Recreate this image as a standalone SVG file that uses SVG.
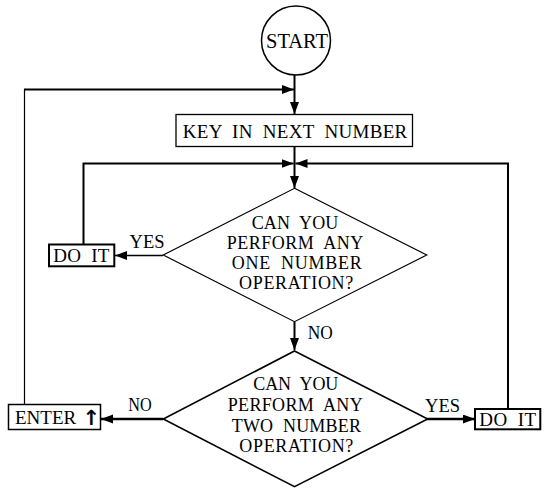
<svg xmlns="http://www.w3.org/2000/svg" width="549" height="491" viewBox="0 0 549 491">
<style>
.t{font-family:"Liberation Serif","Times New Roman",serif;fill:#000;}
.b{font-size:19px;word-spacing:5px;}
.d{font-size:18px;word-spacing:5px;}
.l{font-size:18px;}
.shape{fill:#fff;stroke:#000;}
.c{fill:none;stroke:#000;stroke-width:2;}
</style>
<defs>
<marker id="ah" markerUnits="userSpaceOnUse" markerWidth="13" markerHeight="10" refX="12" refY="4.5" orient="auto">
<path d="M0,0 L12,4.5 L0,9 z" fill="#000"/>
</marker>
</defs>
<rect width="549" height="491" fill="#fff"/>
<g id="connectors">
<line class="c" x1="294.5" y1="75" x2="294.5" y2="114" marker-end="url(#ah)"/>
<path class="c" d="M24.5,404 V89.5" style="stroke-width:1.2"/>
<path class="c" d="M24,89.5 H294" marker-end="url(#ah)"/>
<line class="c" x1="294.5" y1="147" x2="294.5" y2="188" marker-end="url(#ah)"/>
<path class="c" d="M83.5,244 V163.5 H293.5" marker-end="url(#ah)"/>
<path class="c" d="M508,409 V163.5 H295.5" marker-end="url(#ah)"/>
<line class="c" x1="163" y1="255.5" x2="115" y2="255.5" style="stroke-width:1.5" marker-end="url(#ah)"/>
<line class="c" x1="294.5" y1="322" x2="294.5" y2="350" marker-end="url(#ah)"/>
<line class="c" x1="163" y1="419" x2="101" y2="419" style="stroke-width:2.5" marker-end="url(#ah)"/>
<line class="c" x1="427" y1="419" x2="475" y2="419" style="stroke-width:2.5" marker-end="url(#ah)"/>
<text class="t l" x="129.5" y="247.5" textLength="35" lengthAdjust="spacingAndGlyphs">YES</text>
<text class="t l" x="307.7" y="339.3" textLength="25" lengthAdjust="spacingAndGlyphs">NO</text>
<text class="t l" x="128.3" y="411" textLength="23.4" lengthAdjust="spacingAndGlyphs">NO</text>
<text class="t l" x="425" y="411.7" textLength="35" lengthAdjust="spacingAndGlyphs">YES</text>
</g>
<g id="start">
<circle class="shape" cx="296" cy="40.5" r="34.5" stroke-width="1.5"/>
<text class="t" x="266" y="47.7" font-size="20" textLength="62" lengthAdjust="spacingAndGlyphs">START</text>
</g>
<g id="key-in">
<rect class="shape" x="176" y="114.5" width="236.5" height="32" stroke-width="1.3"/>
<text class="t b" x="182.7" y="137.7" textLength="224.6" lengthAdjust="spacing">KEY IN NEXT NUMBER</text>
</g>
<g id="decision-one">
<polygon class="shape" points="294.5,188.3 426.7,255 294.5,321.7 163.3,255" stroke-width="1.2"/>
<text class="t d" x="251.7" y="229.3" textLength="86.6" lengthAdjust="spacing">CAN YOU</text>
<text class="t d" x="226.7" y="249" textLength="136.6" lengthAdjust="spacing">PERFORM ANY</text>
<text class="t d" x="231.7" y="269.3" textLength="130" lengthAdjust="spacing">ONE NUMBER</text>
<text class="t d" x="239" y="289.3" textLength="114.3" lengthAdjust="spacing">OPERATION?</text>
</g>
<g id="do-it-left">
<rect class="shape" x="49" y="244.5" width="65.3" height="21.8" stroke-width="2"/>
<text class="t b" x="53.3" y="261.7" textLength="56" lengthAdjust="spacing">DO IT</text>
</g>
<g id="decision-two">
<polygon class="shape" points="294.5,351 427.7,419 294.5,486.7 163.3,419" stroke-width="1.6"/>
<text class="t d" x="253.3" y="390" textLength="85" lengthAdjust="spacing">CAN YOU</text>
<text class="t d" x="227.7" y="411" textLength="135" lengthAdjust="spacing">PERFORM ANY</text>
<text class="t d" x="231.7" y="431.7" textLength="129.3" lengthAdjust="spacing">TWO NUMBER</text>
<text class="t d" x="239.3" y="451.7" textLength="114" lengthAdjust="spacing">OPERATION?</text>
</g>
<g id="enter">
<rect class="shape" x="8.5" y="404.5" width="92" height="25" stroke-width="1.5"/>
<text class="t" x="15" y="424" font-size="19">ENTER<tspan x="82.5" y="425" font-family="'DejaVu Sans',sans-serif" font-weight="bold" font-size="21">↑</tspan></text>
</g>
<g id="do-it-right">
<rect class="shape" x="475" y="409" width="65.3" height="20.3" stroke-width="2"/>
<text class="t b" x="479.3" y="426" textLength="56.7" lengthAdjust="spacing">DO IT</text>
</g>
</svg>
